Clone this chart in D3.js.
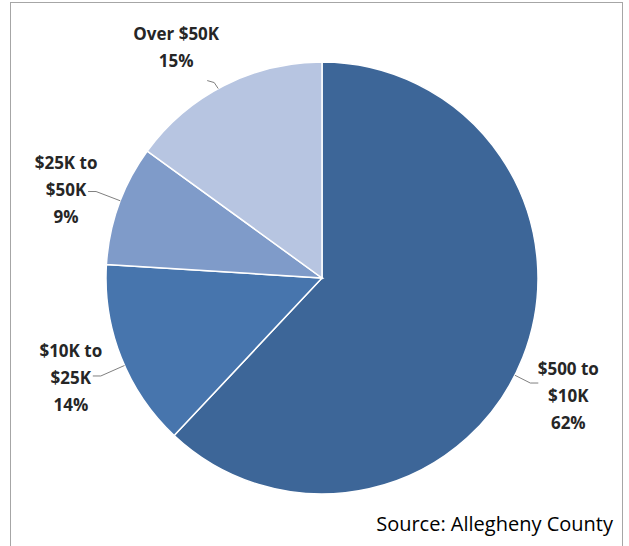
<!DOCTYPE html>
<html lang="en">
<head>
<meta charset="UTF-8">
<script src="https://cdnjs.cloudflare.com/ajax/libs/d3/7.8.5/d3.min.js"></script>
<style>
  body { margin: 0; background: #fff; }
  text { font-family: "Open Sans", "Liberation Sans", sans-serif; }
</style>
</head>
<body>
<div id="chart"></div>
<script>
// data
const categories = ["$500 to $10K", "$10K to $25K", "$25K to $50K", "Over $50K"];
const labelLines = [["$500 to", "$10K", "62%"], ["$10K to", "$25K", "14%"], ["$25K to", "$50K", "9%"], ["Over $50K", "15%"]];
const values = [62, 14, 9, 15];
const colors = ["#3d6698", "#4775ad", "#7f9bc9", "#b7c5e1"];

const W = 629, H = 546;
const cx = 322, cy = 278, r = 216;

const svg = d3.select("#chart").append("svg")
  .attr("width", W).attr("height", H);

// frame
svg.append("rect")
  .attr("x", 10.5).attr("y", 2.5).attr("width", 612).attr("height", 560)
  .attr("fill", "none").attr("stroke", "#a6a6a6");

const pie = d3.pie().sort(null).value(d => d);
const arc = d3.arc().innerRadius(0).outerRadius(r);
const arcs = pie(values);

const g = svg.append("g").attr("transform", `translate(${cx},${cy})`);

g.selectAll("path")
  .data(arcs)
  .join("path")
  .attr("d", arc)
  .attr("fill", (d, i) => colors[i])
  .attr("stroke", "#fff")
  .attr("stroke-width", 1.5);

// label anchors (radius factor, angle nudge, text offset)
const labelPos = [
  {rf: 1.08, da: 0.09, tx: 38, ty: 13},
  {rf: 1.12, da: -0.04, tx: -30, ty: 2},
  {rf: 1.12, da: 0.02, tx: -30, ty: -2},
  {rf: 1.0, da: -0.03, tx: -42, ty: -41}
];

arcs.forEach((d, i) => {
  const p = labelPos[i];
  const a = (d.startAngle + d.endAngle) / 2 + p.da;
  const edge = [Math.sin(a) * r, -Math.cos(a) * r];
  const out = [Math.sin(a) * r * p.rf, -Math.cos(a) * r * p.rf];
  const tx = out[0] + p.tx, ty = out[1] + p.ty;
  const lines = labelLines[i];
  const pts = i === 3
    ? [edge, [edge[0] - 4, edge[1] - 6], [edge[0] - 11, edge[1] - 8]]
    : [edge, out, [out[0] + (p.tx > 0 ? 8 : -8), out[1]]];
  g.append("polyline")
    .attr("points", pts.map(q => q.join(",")).join(" "))
    .attr("fill", "none").attr("stroke", "#808080").attr("stroke-width", 1);
  const t = g.append("text")
    .attr("text-anchor", "middle")
    .attr("font-weight", "bold").attr("font-size", 17).attr("fill", "#262626");
  const y0 = ty - (lines.length - 1) * 27 / 2 + 6;
  lines.forEach((s, k) => {
    t.append("tspan").attr("x", tx).attr("y", y0 + k * 27).text(s);
  });
});

svg.append("text")
  .attr("x", 613).attr("y", 531)
  .attr("text-anchor", "end")
  .attr("font-size", 20).attr("fill", "#000")
  .text("Source: Allegheny County");
</script>
</body>
</html>
